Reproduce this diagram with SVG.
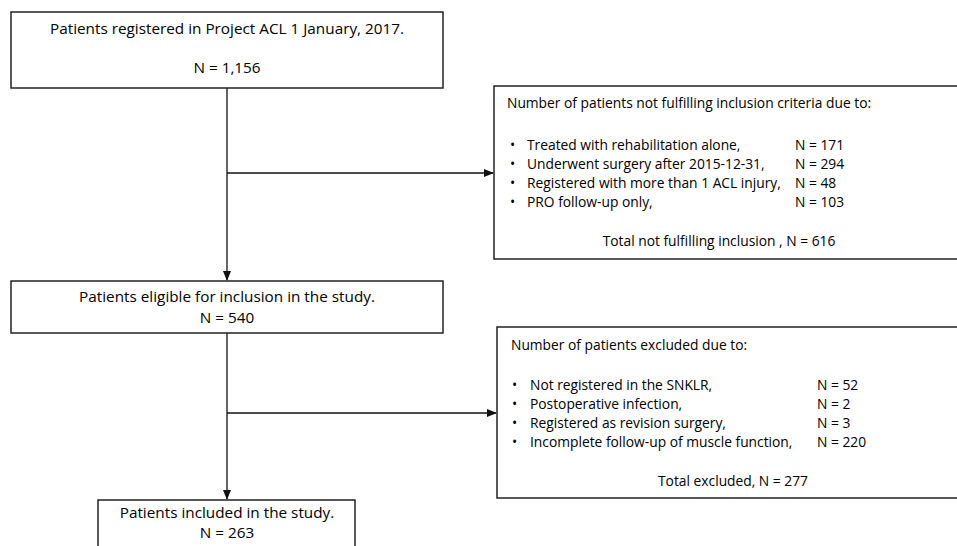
<svg xmlns="http://www.w3.org/2000/svg" width="957" height="546" viewBox="0 0 957 546">
<defs>
<style>
.box{fill:#fff;stroke:#222;stroke-width:1.5}
.t{font-family:"Open Sans","Liberation Sans",sans-serif;font-size:13.8px;fill:#000}
.L{font-size:15.3px}
.c{text-anchor:middle}
.ln{stroke:#111;stroke-width:1.3;fill:none}
</style>
<marker id="ah" markerWidth="10" markerHeight="8" refX="9" refY="4" orient="auto" markerUnits="userSpaceOnUse">
<path d="M0,0 L10,4 L0,8 z" fill="#111"/>
</marker>
</defs>
<rect width="957" height="546" fill="#fff"/>
<g id="connectors">
<line class="ln" x1="227" y1="88" x2="227" y2="280" marker-end="url(#ah)"/>
<line class="ln" x1="227" y1="173" x2="493" y2="173" marker-end="url(#ah)"/>
<line class="ln" x1="227" y1="333" x2="227" y2="499" marker-end="url(#ah)"/>
<line class="ln" x1="227" y1="413" x2="496" y2="413" marker-end="url(#ah)"/>
</g>
<g id="registered">
<rect class="box" x="11" y="12" width="432" height="76"/>
<text class="t L c" x="227" y="34">Patients registered in Project ACL 1 January, 2017.</text>
<text class="t L c" x="227" y="73">N = 1,156</text>
</g>
<g id="not-fulfilling">
<rect class="box" x="494" y="86" width="470" height="173"/>
<text class="t" x="507" y="108">Number of patients not fulfilling inclusion criteria due to:</text>
<text class="t" x="510" y="150">•</text><text class="t" x="527" y="150">Treated with rehabilitation alone,</text><text class="t" x="795" y="150">N = 171</text>
<text class="t" x="510" y="169">•</text><text class="t" x="527" y="169">Underwent surgery after 2015-12-31,</text><text class="t" x="795" y="169">N = 294</text>
<text class="t" x="510" y="188">•</text><text class="t" x="527" y="188">Registered with more than 1 ACL injury,</text><text class="t" x="795" y="188">N = 48</text>
<text class="t" x="510" y="207">•</text><text class="t" x="527" y="207">PRO follow-up only,</text><text class="t" x="795" y="207">N = 103</text>
<text class="t c" x="719" y="246">Total not fulfilling inclusion , N =  616</text>
</g>
<g id="eligible">
<rect class="box" x="11" y="281" width="432" height="52"/>
<text class="t L c" x="227" y="302">Patients eligible for inclusion in the study.</text>
<text class="t L c" x="227" y="323">N = 540</text>
</g>
<g id="excluded">
<rect class="box" x="497" y="327" width="470" height="171"/>
<text class="t" x="511" y="350">Number of patients excluded due to:</text>
<text class="t" x="512" y="390">•</text><text class="t" x="530" y="390">Not registered in the SNKLR,</text><text class="t" x="817" y="390">N = 52</text>
<text class="t" x="512" y="409">•</text><text class="t" x="530" y="409">Postoperative infection,</text><text class="t" x="817" y="409">N = 2</text>
<text class="t" x="512" y="428">•</text><text class="t" x="530" y="428">Registered as revision surgery,</text><text class="t" x="817" y="428">N = 3</text>
<text class="t" x="512" y="447">•</text><text class="t" x="530" y="447">Incomplete follow-up of muscle function,</text><text class="t" x="817" y="447">N = 220</text>
<text class="t c" x="733" y="486">Total excluded, N = 277</text>
</g>
<g id="included">
<rect class="box" x="98" y="500" width="257" height="60"/>
<text class="t L c" x="227" y="518">Patients included in the study.</text>
<text class="t L c" x="227" y="538">N = 263</text>
</g>
</svg>
